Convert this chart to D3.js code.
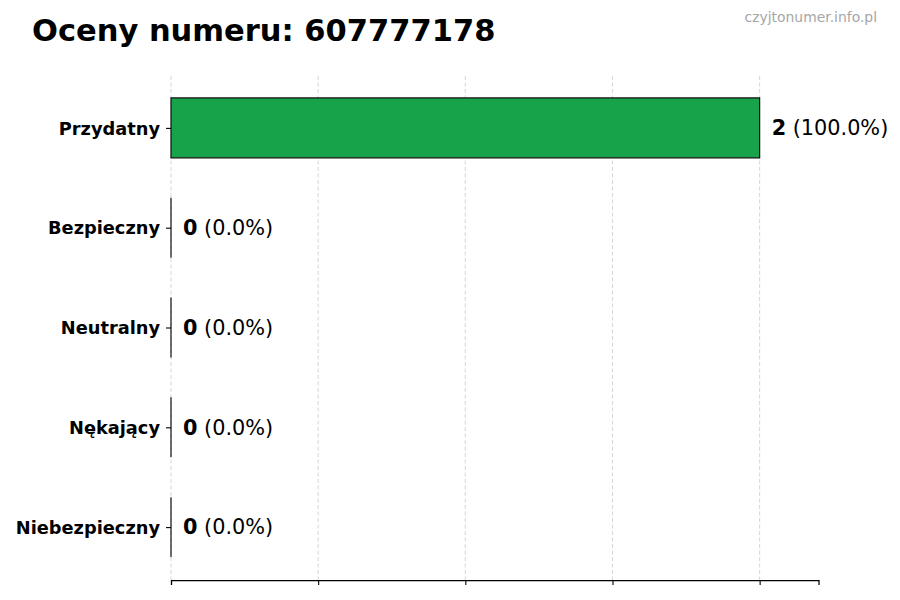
<!DOCTYPE html>
<html><head><meta charset="utf-8">
<script src="https://cdn.jsdelivr.net/npm/d3@7"></script>
<style>body{margin:0;background:#fff}svg{display:block}text{font-family:"DejaVu Sans",sans-serif}</style>
</head><body>
<script>
const categories = ["Przydatny","Bezpieczny","Neutralny","Nękający","Niebezpieczny"];
const counts = [2,0,0,0,0];
const percents = [100.0,0.0,0.0,0.0,0.0];
const xTicks = [0,0.5,1,1.5,2];
const title = "Oceny numeru: 607777178";
const watermark = "czyjtonumer.info.pl";

const W=900,H=600;
const svg=d3.select("body").append("svg").attr("width",W).attr("height",H);
const x=d3.scaleLinear().domain([0,2.2]).range([171,818.5]);
const y=d3.scaleLinear().domain([-0.52,4.53]).range([76,580]);
const barH=0.6;

// grid
svg.append("g").selectAll("line").data(xTicks).join("line")
  .attr("x1",d=>x(d)).attr("x2",d=>x(d)).attr("y1",y(-0.52)).attr("y2",y(4.53))
  .attr("stroke","#cccccc").attr("stroke-width",0.8).attr("stroke-dasharray","4,2.5");

// bars
svg.append("g").selectAll("path").data(counts).join("path")
  .attr("d",(d,i)=>{const x0=x(0),x1=x(d),y0=y(i-barH/2),y1=y(i+barH/2);return `M${x0},${y0}H${x1}V${y1}H${x0}Z`;})
  .attr("fill","#16a34a").attr("stroke","#111").attr("stroke-width",1.2);

// bottom axis
const xa=svg.append("g").attr("transform",`translate(0,${y(4.53)})`)
  .call(d3.axisBottom(x).tickValues(xTicks).tickFormat("").tickSizeOuter(0).tickSize(5));
xa.select(".domain").attr("stroke","#000").attr("stroke-width",1.25);
xa.selectAll(".tick line").attr("stroke","#000").attr("stroke-width",1.1);

// left axis (ticks only)
const ya=svg.append("g").attr("transform",`translate(${x(0)},0)`)
  .call(d3.axisLeft(y).tickValues(d3.range(categories.length)).tickFormat(i=>categories[i]).tickSize(5).tickPadding(6));
ya.select(".domain").remove();
ya.selectAll(".tick line").attr("stroke","#000").attr("stroke-width",1.1);
ya.selectAll(".tick text").attr("font-family","DejaVu Sans").attr("font-weight","bold").attr("font-size","17.8px").attr("fill","#000").attr("dy","0.35em");

// value labels
const lab=svg.append("g").selectAll("text").data(counts).join("text")
  .attr("x",d=>x(d)+12).attr("y",(d,i)=>y(i)).attr("dy","0.35em")
  .attr("font-size","20.8px").attr("fill","#000");
lab.append("tspan").attr("font-weight","bold").text(d=>d);
lab.append("tspan").text((d,i)=>" ("+percents[i].toFixed(1)+"%)");

// title
svg.append("text").attr("x",32).attr("y",41).attr("font-weight","bold").attr("font-size","30.5px").attr("fill","#000").text(title);
svg.append("text").attr("x",877).attr("y",22).attr("text-anchor","end").attr("font-size","13.9px").attr("fill","#a6a6a6").text(watermark);
</script>
</body></html>
